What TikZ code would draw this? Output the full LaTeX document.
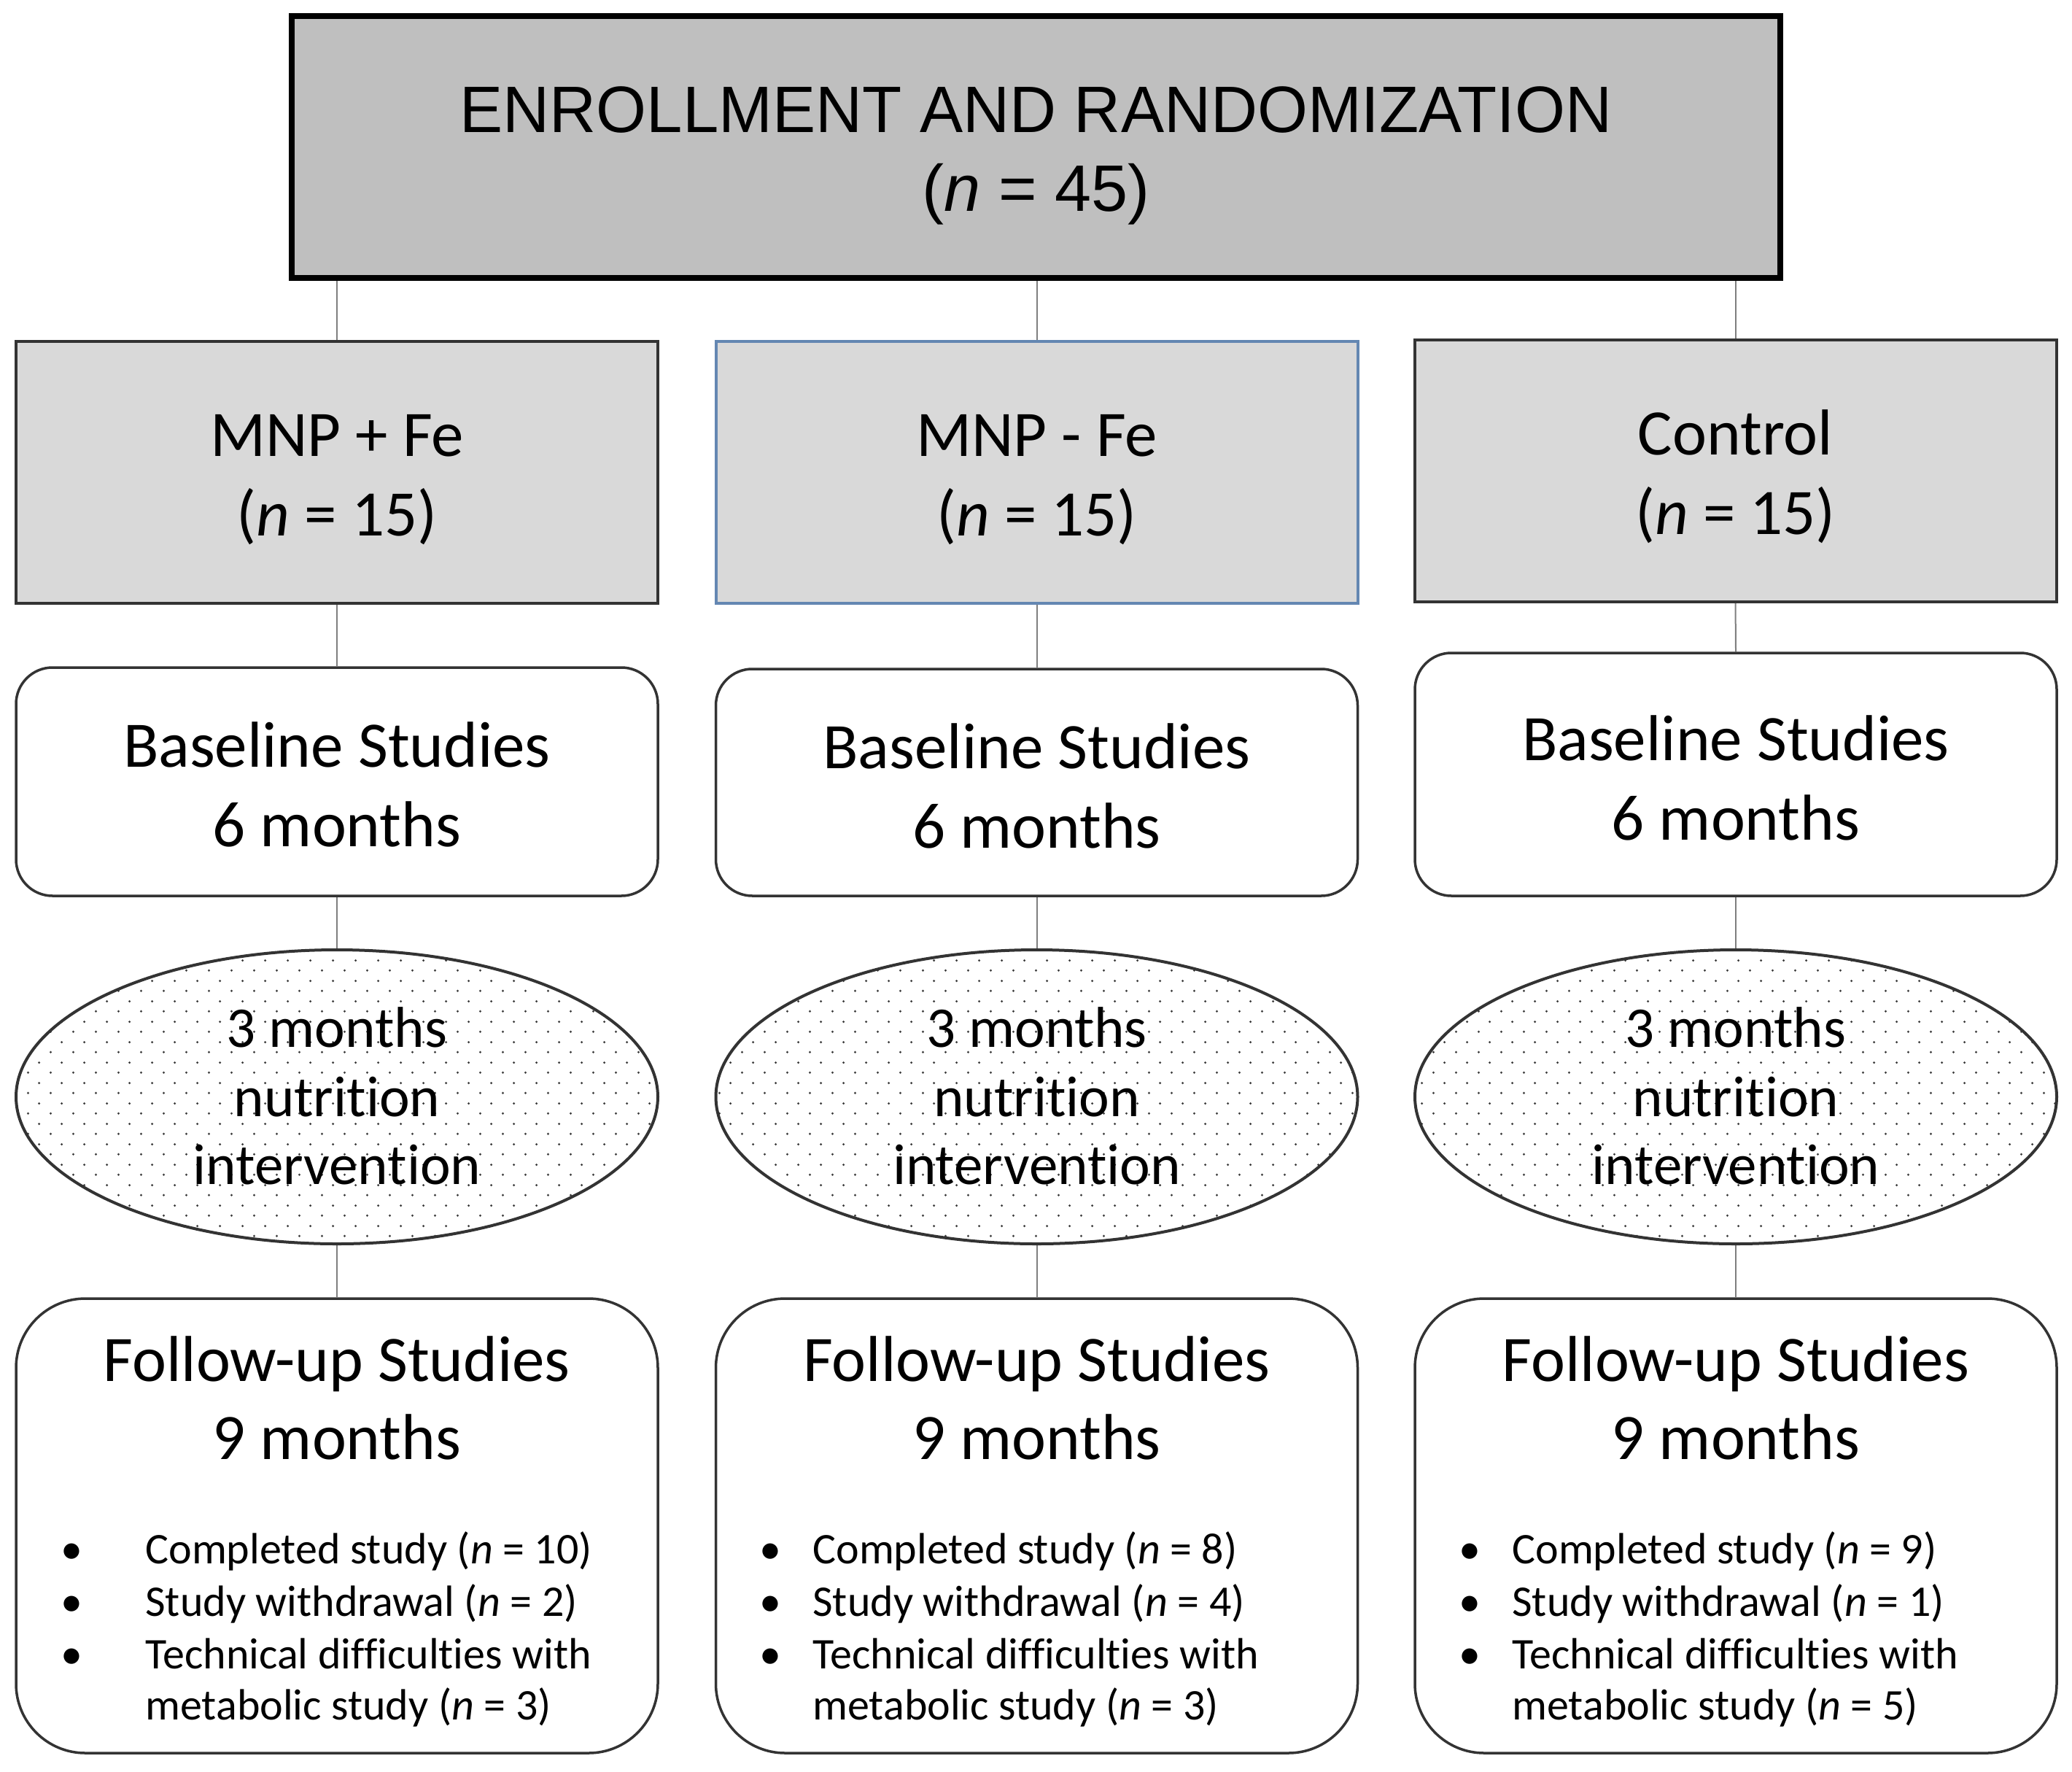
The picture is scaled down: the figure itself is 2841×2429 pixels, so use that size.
\documentclass[tikz,border=0pt]{standalone}
\usepackage{fontspec}
\setmainfont[Ligatures=NoCommon]{Carlito}
\newfontfamily\arialf{Liberation Sans}
\usetikzlibrary{shapes.geometric,patterns}
\pgfdeclarelayer{background}
\pgfsetlayers{background,main}
\pgfdeclarepatternformonly{smalldots}{\pgfqpoint{0pt}{0pt}}{\pgfqpoint{15.3pt}{14pt}}{\pgfqpoint{15.3pt}{14pt}}{%
  \pgfpathcircle{\pgfqpoint{3.8pt}{3.5pt}}{0.85pt}%
  \pgfpathcircle{\pgfqpoint{11.45pt}{10.5pt}}{0.85pt}%
  \pgfusepath{fill}}
\definecolor{topgray}{HTML}{BFBFBF}
\definecolor{grpgray}{HTML}{D9D9D9}
\definecolor{boxedge}{HTML}{333333}
\definecolor{blueedge}{RGB}{100,135,178}
\definecolor{linkgray}{HTML}{7F7F7F}
\definecolor{dotgray}{HTML}{3A3A3A}
\begin{document}
\begin{tikzpicture}[x=0.5pt,y=-0.5pt,
  topbox/.style={draw=black, line width=4pt, fill=topgray, minimum width=1020.5pt, minimum height=179.5pt, inner sep=0pt},
  grpbox/.style={draw=boxedge, line width=2pt, fill=grpgray, minimum width=440pt, minimum height=179.5pt, inner sep=0pt},
  basebox/.style={draw=boxedge, line width=1.75pt, fill=white, rounded corners=25pt, minimum width=440pt, inner sep=0pt},
  ellbox/.style={ellipse, draw=boxedge, line width=2pt, preaction={fill=white}, pattern=smalldots, pattern color=dotgray, minimum width=440pt, minimum height=201.5pt, inner sep=0pt},
  fubox/.style={draw=boxedge, line width=1.75pt, fill=white, rounded corners=47.5pt, minimum width=440pt, minimum height=311.5pt, inner sep=0pt},
  link/.style={draw=linkgray, line width=1pt},
  toptxt/.style={anchor=base, inner sep=0pt, font=\arialf\fontsize{45}{54}\selectfont},
  bigtxt/.style={anchor=base, inner sep=0pt, font=\fontsize{44.5}{53}\selectfont},
  elltxt/.style={anchor=base, inner sep=0pt, font=\fontsize{39.5}{47}\selectfont},
  bultxt/.style={anchor=base west, inner sep=0pt, font=\fontsize{30}{36}\selectfont},
  bulmark/.style={anchor=base, inner sep=0pt, font=\fontsize{30}{36}\selectfont}
]
\useasboundingbox (0,0) rectangle (2841,2429);

% top box
\node[topbox] (top) at (1420.5,201.5) {};
\node[toptxt] (topa) at (1420.5,182) {\scalebox{0.985}[1]{ENROLLMENT AND RANDOMIZATION}};
\node[toptxt] (topb) at (1420.5,290) {(\textit{n} = 45)};

% group boxes
\node[grpbox] (g1) at (462,647.5) {};
\node[grpbox, draw=blueedge] (g2) at (1421.5,647.5) {};
\node[grpbox] (g3) at (2379.5,645) {};
\node[bigtxt] (g1a) at (462,625) {MNP + Fe};
\node[bigtxt] (g1b) at (462,734) {(\textit{n} = 15)};
\node[bigtxt] (g2a) at (1421.5,625) {MNP - Fe};
\node[bigtxt] (g2b) at (1421.5,734) {(\textit{n} = 15)};
\node[bigtxt] (g3a) at (2379.5,623) {Control};
\node[bigtxt] (g3b) at (2379.5,732) {(\textit{n} = 15)};

% baseline boxes
\node[basebox, minimum height=156.5pt] (b1) at (462,1071.5) {};
\node[basebox, minimum height=155.5pt] (b2) at (1421.5,1072.5) {};
\node[basebox, minimum height=166.5pt] (b3) at (2380,1061.5) {};
\node[bigtxt] (b1a) at (462,1051) {Baseline Studies};
\node[bigtxt] (b1b) at (462,1160) {6 months};
\node[bigtxt] (b2a) at (1421.5,1053) {Baseline Studies};
\node[bigtxt] (b2b) at (1421.5,1162) {6 months};
\node[bigtxt] (b3a) at (2380,1042) {Baseline Studies};
\node[bigtxt] (b3b) at (2380,1151) {6 months};

% ellipses
\node[ellbox] (e1) at (462,1503.5) {};
\node[ellbox] (e2) at (1421.5,1503.5) {};
\node[ellbox] (e3) at (2380,1503.5) {};
\foreach \c/\x in {1/462,2/1421.5,3/2380}{
  \node[elltxt] (e\c a) at (\x,1435) {3 months};
  \node[elltxt] (e\c b) at (\x,1530) {nutrition};
  \node[elltxt] (e\c c) at (\x,1623) {intervention};
}

% follow-up boxes
\node[fubox] (f1) at (462,2091.5) {};
\node[fubox] (f2) at (1421.5,2091.5) {};
\node[fubox] (f3) at (2380,2091.5) {};
\foreach \c/\x in {1/462,2/1421.5,3/2380}{
  \node[bigtxt] (f\c a) at (\x,1893) {Follow-up Studies};
  \node[bigtxt] (f\c b) at (\x,2000) {9 months};
}
\foreach \c/\bx/\tx/\na/\nb/\nc in {1/98/199/10/2/3, 2/1056/1114/8/4/3, 3/2015/2073/9/1/5}{
  \node[bulmark] (m\c a) at (\bx,2143) {•};
  \node[bulmark] (m\c b) at (\bx,2215) {•};
  \node[bulmark] (m\c c) at (\bx,2287) {•};
  \node[bultxt] (l\c a) at (\tx,2143) {Completed study (\textit{n} = \na)};
  \node[bultxt] (l\c b) at (\tx,2215) {Study withdrawal (\textit{n} = \nb)};
  \node[bultxt] (l\c c) at (\tx,2287) {Technical difficulties with};
  \node[bultxt] (l\c d) at (\tx,2357) {metabolic study (\textit{n} = \nc)};
}

% connectors
\begin{pgfonlayer}{background}
\draw[link] (top.south -| g1.north) -- (g1.north);
\draw[link] (top.south -| g2.north) -- (g2.north);
\draw[link] (top.south -| g3.north) -- (g3.north);
\foreach \c in {1,2,3}{
  \draw[link] (g\c.south) -- (b\c.north);
  \draw[link] (b\c.south) -- (e\c.north);
  \draw[link] (e\c.south) -- (f\c.north);
}
\end{pgfonlayer}
\end{tikzpicture}
\end{document}
